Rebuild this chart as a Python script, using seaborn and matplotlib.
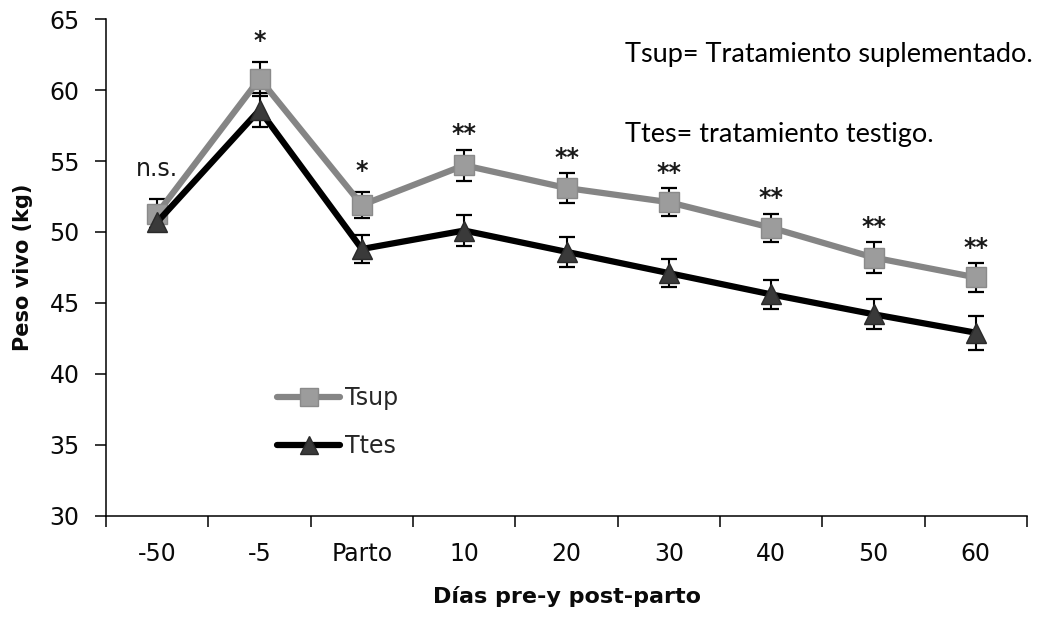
import numpy as np
import pandas as pd
import matplotlib
matplotlib.use("Agg")
import matplotlib.pyplot as plt
import seaborn as sns

# Días respecto al parto
dias = ["-50", "-5", "Parto", "10", "20", "30", "40", "50", "60"]

# Peso vivo medio (kg) y error estándar por tratamiento
tsup = [51.3, 60.8, 51.9, 54.7, 53.1, 52.1, 50.3, 48.2, 46.8]
tsup_err = [1.0, 1.2, 0.95, 1.1, 1.05, 1.0, 1.0, 1.1, 1.0]
ttes = [50.7, 58.6, 48.8, 50.1, 48.6, 47.1, 45.6, 44.2, 42.9]
ttes_err = [0.4, 1.2, 1.0, 1.1, 1.05, 1.0, 1.0, 1.07, 1.2]

# Significancia de la diferencia entre tratamientos
signif = ["n.s.", "*", "*", "**", "**", "**", "**", "**", "**"]

grupos = ["Tsup", "Ttes"]
nota_tsup = "Tsup= Tratamiento suplementado."
nota_ttes = "Ttes= tratamiento testigo."

sns.set_theme(style="white")
plt.rcParams["font.family"] = ["DejaVu Sans"]

pos = np.arange(len(dias))
df = pd.DataFrame({
    "pos": np.concatenate([pos, pos]),
    "peso": tsup + ttes,
    "grupo": [grupos[0]] * len(dias) + [grupos[1]] * len(dias),
})

fig = plt.figure(figsize=(10.4, 6.18), dpi=100)
ax = fig.add_axes([0.102, 0.1655, 0.8855, 0.8035])

# Barras de error por debajo de las líneas
ax.errorbar(pos, tsup, yerr=tsup_err, fmt="none", ecolor="black",
            elinewidth=1.5, capsize=6, capthick=1.6, zorder=1.5)
ax.errorbar(pos, ttes, yerr=ttes_err, fmt="none", ecolor="black",
            elinewidth=1.5, capsize=6, capthick=1.6, zorder=1.5)

sns.lineplot(data=df, x="pos", y="peso", hue="grupo", style="grupo",
             hue_order=grupos, style_order=grupos,
             palette={"Tsup": "#858585", "Ttes": "#000000"},
             markers={"Tsup": "s", "Ttes": "^"}, dashes=False,
             linewidth=4.5, markersize=15, legend=False, ax=ax)

lineas = ax.get_lines()[-2:]
estilos = [("#9c9c9c", "#8a8a8a"), ("#3a3a3a", "#2a2a2a")]
for ln, (cara, borde) in zip(lineas, estilos):
    ln.set_markerfacecolor(cara)
    ln.set_markeredgecolor(borde)
    ln.set_markeredgewidth(1.0)

# Marcas de significancia sobre Tsup
for x, y, e, s in zip(pos, tsup, tsup_err, signif):
    if s == "n.s.":
        ax.annotate(s, (x, y + e), xytext=(0, 17), textcoords="offset points",
                    ha="center", va="baseline", fontsize=17, color="#1a1a1a")
    else:
        desplaz = 10 if s == "*" else 6
        ax.annotate(s, (x, y + e), xytext=(0, desplaz),
                    textcoords="offset points", ha="center", va="baseline",
                    fontsize=17, fontweight="bold", color="#1a1a1a")

# Ejes
ax.set_ylim(30, 65)
ax.set_yticks(np.arange(30, 66, 5))
ax.set_xlim(-0.5, len(dias) - 0.5)
ax.set_xticks(np.arange(-0.5, len(dias), 1.0))
ax.set_xticklabels([])
ax.set_xticks(pos, minor=True)
ax.set_xticklabels(dias, minor=True)
ax.tick_params(axis="x", which="major", direction="out", length=8, width=1.1,
               color="black", bottom=True)
ax.tick_params(axis="x", which="minor", length=0, pad=19, labelsize=17,
               labelcolor="#0a0a0a")
ax.tick_params(axis="y", direction="out", length=8, width=1.1, color="black",
               left=True, pad=11, labelsize=17, labelcolor="#0a0a0a")

for side in ["top", "right"]:
    ax.spines[side].set_visible(False)
for side in ["left", "bottom"]:
    ax.spines[side].set_color("black")
    ax.spines[side].set_linewidth(1.1)

ax.set_xlabel("Días pre-y post-parto", fontsize=16, fontweight="bold",
              labelpad=14, color="#0a0a0a")
ax.set_ylabel("Peso vivo (kg)", fontsize=15, fontweight="bold",
              labelpad=12, color="#0a0a0a")

ax.legend(lineas, grupos, loc="upper left",
          bbox_to_anchor=(0.266, 0.375), bbox_transform=fig.transFigure,
          frameon=False, fontsize=17, handlelength=2.7, handletextpad=0.2,
          labelspacing=1.0, borderpad=0, borderaxespad=0, markerscale=0.9)

fig.text(0.601, 0.8997, nota_tsup, fontsize=19.5, family=["Lato", "DejaVu Sans"],
         va="baseline", ha="left", color="black")
fig.text(0.601, 0.770, nota_ttes, fontsize=19.5, family=["Lato", "DejaVu Sans"],
         va="baseline", ha="left", color="black")

fig.savefig("out.png", dpi=100)
